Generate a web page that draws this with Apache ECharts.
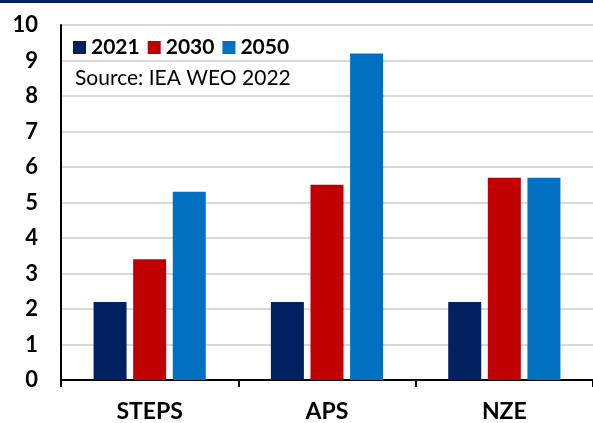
<!DOCTYPE html>
<html><head><meta charset="utf-8">
<script src="https://cdn.jsdelivr.net/npm/echarts@6/dist/echarts.min.js"></script>
<style>html,body{margin:0;padding:0;background:#fff}#c{width:593px;height:423px}</style>
</head><body><div id="c"></div>
<script>
const categories = ['STEPS', 'APS', 'NZE'];
const years = ['2021', '2030', '2050'];
const v2021 = [2.2, 2.2, 2.2];
const v2030 = [3.4, 5.5, 5.7];
const v2050 = [5.3, 9.2, 5.7];
const yTicks = [0, 1, 2, 3, 4, 5, 6, 7, 8, 9, 10];
const colors = ['#002060', '#C00000', '#0070C0'];
const font = 'Lato, "Open Sans", sans-serif';
const chart = echarts.init(document.getElementById('c'));
const vals = [v2021, v2030, v2050];
chart.setOption({
  animation: false,
  grid: { left: 61, right: 0, top: 25, bottom: 41 },
  graphic: [
    { type: 'rect', shape: { x: 0, y: 0, width: 593, height: 3 }, style: { fill: '#002060' } },
    { type: 'text', left: 75, top: 68, style: { text: 'Source: IEA WEO 2022', font: '21px ' + font, fill: '#000' } }
  ],
  legend: {
    left: 73, top: 37, padding: 0, itemWidth: 13, itemHeight: 13, itemGap: 8,
    icon: 'rect',
    textStyle: { fontFamily: font, fontWeight: 'bold', fontSize: 21, color: '#000', padding: [0, 0, 0, 0] },
    data: years
  },
  xAxis: {
    type: 'category', data: categories,
    axisLine: { lineStyle: { color: '#000', width: 2 } },
    axisTick: { show: true, length: 7, lineStyle: { color: '#000', width: 2 } },
    axisLabel: { fontFamily: font, fontWeight: 'bold', fontSize: 23, color: '#000', margin: 20 }
  },
  yAxis: {
    type: 'value', min: yTicks[0], max: yTicks[yTicks.length - 1], interval: 1,
    axisLine: { show: true, lineStyle: { color: '#000', width: 2 } },
    axisTick: { show: false },
    splitLine: { lineStyle: { color: '#d9d9d9', width: 2 } },
    axisLabel: { fontFamily: font, fontWeight: 'bold', fontSize: 22, color: '#000', margin: 23 }
  },
  series: years.map((y, i) => ({
    name: y, type: 'bar', data: vals[i],
    itemStyle: { color: colors[i] },
    barWidth: 33, barGap: '20%'
  }))
});
</script></body></html>
